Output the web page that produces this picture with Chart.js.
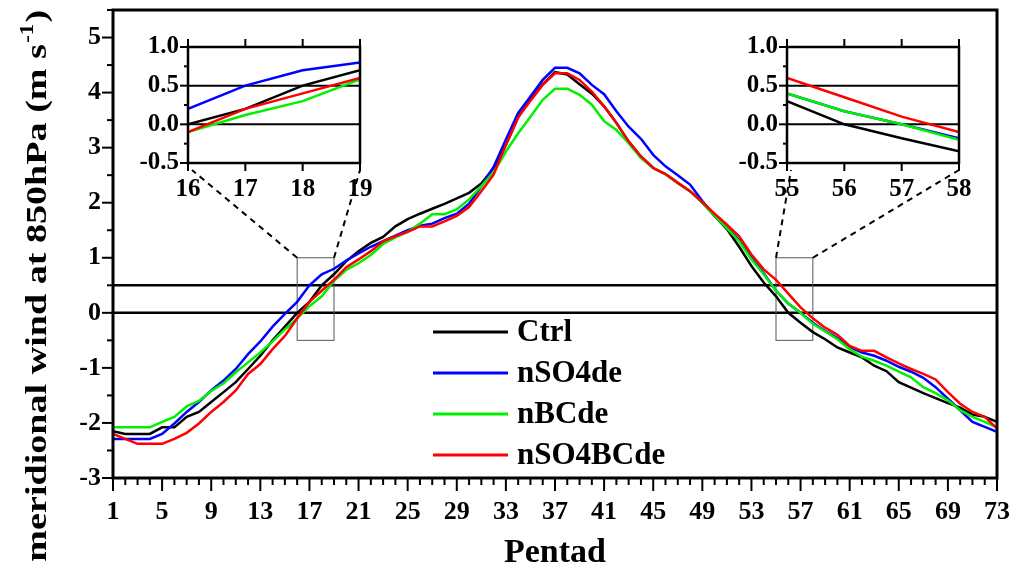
<!DOCTYPE html>
<html>
<head>
<meta charset="utf-8">
<script src="https://cdn.jsdelivr.net/npm/chart.js@4.4.1/dist/chart.umd.min.js"></script>
<style>
  body { margin: 0; background: #fff; }
  #wrap { position: relative; width: 1015px; height: 574px; }
  canvas { position: absolute; }
</style>
</head>
<body>
<div id="wrap">
  <canvas id="main" width="1015" height="574" style="left:0;top:0"></canvas>
  <canvas id="insetA" width="260" height="180"></canvas>
  <canvas id="insetB" width="260" height="180"></canvas>
</div>
<script>
// pentads 1..73
const pentads = Array.from({ length: 73 }, (_, i) => i + 1);

const ctrl = [
  -2.15, -2.2, -2.2, -2.2, -2.08, -2.08, -1.89, -1.8, -1.62, -1.44,
  -1.26, -1.02, -0.78, -0.5, -0.25, 0.0, 0.2, 0.5, 0.7, 0.94,
  1.12, 1.27, 1.38, 1.57, 1.7, 1.8, 1.89, 1.98, 2.08, 2.18,
  2.35, 2.63, 3.05, 3.55, 3.88, 4.15, 4.37, 4.33, 4.15, 3.98,
  3.75, 3.45, 3.11, 2.84, 2.63, 2.52, 2.36, 2.21, 2.0, 1.76,
  1.52, 1.2, 0.85, 0.55, 0.3, 0.0, -0.18, -0.35, -0.48, -0.63,
  -0.72, -0.81, -0.96, -1.06, -1.26, -1.36, -1.46, -1.55, -1.64, -1.72,
  -1.85, -1.89, -1.98,
];
const nSO4de = [
  -2.29, -2.29, -2.29, -2.29, -2.2, -2.01, -1.8, -1.62, -1.41, -1.23,
  -1.02, -0.75, -0.52, -0.25, -0.02, 0.2, 0.5, 0.7, 0.8, 0.95,
  1.08, 1.2, 1.3, 1.4, 1.5, 1.58, 1.62, 1.72, 1.8, 1.98,
  2.3, 2.65, 3.15, 3.63, 3.93, 4.23, 4.45, 4.45, 4.35, 4.14,
  3.97, 3.66, 3.38, 3.16, 2.87, 2.66, 2.5, 2.33, 2.03, 1.76,
  1.55, 1.32, 1.0, 0.72, 0.4, 0.17, 0.0, -0.18, -0.33, -0.46,
  -0.62, -0.72, -0.78, -0.87, -0.98, -1.07, -1.18, -1.35, -1.56, -1.77,
  -1.98, -2.07, -2.16,
];
const nBCde = [
  -2.08, -2.08, -2.08, -2.08, -1.98, -1.89, -1.7, -1.6, -1.42, -1.28,
  -1.08, -0.9, -0.72, -0.52, -0.3, -0.1, 0.12, 0.3, 0.58, 0.78,
  0.9, 1.05, 1.25, 1.37, 1.47, 1.62, 1.79, 1.79, 1.88, 2.06,
  2.3, 2.55, 2.93, 3.26, 3.56, 3.87, 4.07, 4.07, 3.96, 3.78,
  3.48, 3.32, 3.08, 2.81, 2.63, 2.52, 2.36, 2.21, 2.0, 1.76,
  1.54, 1.3, 0.97, 0.7, 0.4, 0.17, 0.0, -0.2, -0.34, -0.48,
  -0.66, -0.8, -0.87, -0.96, -1.07, -1.17, -1.35, -1.46, -1.59, -1.77,
  -1.89, -1.98, -2.08,
];
const nSO4BCde = [
  -2.2, -2.29, -2.38, -2.38, -2.38, -2.29, -2.18, -2.01, -1.8, -1.62,
  -1.41, -1.11, -0.93, -0.66, -0.42, -0.1, 0.2, 0.4, 0.6, 0.83,
  0.97, 1.12, 1.3, 1.39, 1.47, 1.57, 1.57, 1.66, 1.76, 1.92,
  2.21, 2.51, 3.05, 3.55, 3.85, 4.14, 4.35, 4.35, 4.23, 4.02,
  3.75, 3.45, 3.11, 2.84, 2.63, 2.52, 2.36, 2.21, 2.01, 1.8,
  1.6, 1.39, 1.06, 0.79, 0.6, 0.35, 0.1, -0.1, -0.27, -0.4,
  -0.6, -0.69, -0.69, -0.81, -0.92, -1.02, -1.11, -1.21, -1.44, -1.65,
  -1.8, -1.89, -2.1,
];

const seriesNames = ["Ctrl", "nSO4de", "nBCde", "nSO4BCde"];
const seriesColors = ["#000000", "#0000ff", "#00f000", "#ff0000"];
const refLevels = [0, 0.5];
// zoomed pentad windows and their value range
const zoomWindows = [[16, 19], [55, 58]];
const insetRange = [-0.5, 1.0];

const serif = "'Liberation Serif', 'Times New Roman', serif";

// inset canvas placement and its inner plot box
const insetAt = [[120, 30], [719, 30]];
const inBox = { left: 68, top: 17, right: 20, bottom: 47 };

function seg(ctx, x1, y1, x2, y2) {
  ctx.beginPath();
  ctx.moveTo(x1, y1);
  ctx.lineTo(x2, y2);
  ctx.stroke();
}

// drop the label overhang padding so the plot box stays where the layout puts it
function noPad(s) {
  s.paddingTop = 0;
  s.paddingBottom = 0;
  s.paddingLeft = 0;
  s.paddingRight = 0;
}

function makeDatasets(from, to) {
  const all = [ctrl, nSO4de, nBCde, nSO4BCde];
  return all.map((vals, i) => ({
    label: seriesNames[i],
    data: pentads
      .map((p, k) => ({ x: p, y: vals[k] }))
      .filter((d) => d.x >= from && d.x <= to),
    borderColor: seriesColors[i],
    backgroundColor: seriesColors[i],
    borderWidth: 2.5,
    pointRadius: 0,
    tension: 0,
    order: 4 - i,
  }));
}

// main chart decorations: frame, ticks, zoom boxes, legend, y title
const mainDecor = {
  id: "mainDecor",
  beforeDatasetsDraw(chart) {
    const { ctx, chartArea: a, scales: { x, y } } = chart;
    ctx.save();
    ctx.strokeStyle = "#000";
    ctx.lineWidth = 2.5;
    refLevels.forEach((v) => {
      const py = y.getPixelForValue(v);
      seg(ctx, a.left, py, a.right, py);
    });
    ctx.strokeStyle = "#555";
    ctx.lineWidth = 1;
    zoomWindows.forEach((w) => {
      const x1 = x.getPixelForValue(w[0]);
      const x2 = x.getPixelForValue(w[1]);
      const y1 = y.getPixelForValue(insetRange[1]);
      const y2 = y.getPixelForValue(insetRange[0]);
      ctx.strokeRect(x1, y1, x2 - x1, y2 - y1);
    });
    ctx.restore();
  },
  afterDraw(chart) {
    const { ctx, chartArea: a, scales: { x, y } } = chart;
    ctx.save();
    ctx.strokeStyle = "#000";
    ctx.lineWidth = 3;
    ctx.strokeRect(a.left, a.top, a.right - a.left, a.bottom - a.top);

    ctx.lineWidth = 2;
    pentads.forEach((p) => {
      const px = x.getPixelForValue(p);
      seg(ctx, px, a.bottom, px, a.bottom + ((p - 1) % 4 === 0 ? 13 : 7));
    });
    for (let v = -3; v <= 5.5; v += 0.5) {
      const py = y.getPixelForValue(v);
      seg(ctx, a.left, py, a.left - (v % 1 === 0 ? 11 : 6), py);
    }

    // dashed connectors to the insets
    ctx.setLineDash([6, 5]);
    ctx.lineWidth = 2;
    zoomWindows.forEach((w, i) => {
      const topY = y.getPixelForValue(insetRange[1]);
      const bx = insetAt[i][0];
      const by = insetAt[i][1] + 180 - inBox.bottom + 7;
      seg(ctx, x.getPixelForValue(w[0]), topY, bx + inBox.left + 4, by);
      seg(ctx, x.getPixelForValue(w[1]), topY, bx + 260 - inBox.right, by);
    });
    ctx.setLineDash([]);

    // legend
    ctx.font = "bold 31px " + serif;
    ctx.textBaseline = "middle";
    ctx.fillStyle = "#000";
    chart.data.datasets.forEach((ds, i) => {
      const ly = 332 + i * 41;
      ctx.strokeStyle = ds.borderColor;
      ctx.lineWidth = 3;
      seg(ctx, 433, ly, 508, ly);
      ctx.fillText(ds.label, 517, ly + 1);
    });

    // y axis title with superscript
    ctx.translate(38, 287);
    ctx.rotate(-Math.PI / 2);
    ctx.scale(1.27, 1);
    const t1 = "meridional wind at 850hPa (m s";
    const t2 = "-1";
    const t3 = ")";
    ctx.font = "bold 30px " + serif;
    const w1 = ctx.measureText(t1).width;
    const w3 = ctx.measureText(t3).width;
    ctx.font = "bold 18px " + serif;
    const w2 = ctx.measureText(t2).width;
    let sx = -(w1 + w2 + w3) / 2;
    ctx.font = "bold 30px " + serif;
    ctx.fillText(t1, sx, 0);
    ctx.font = "bold 18px " + serif;
    ctx.fillText(t2, sx + w1 + 1, -10);
    ctx.font = "bold 30px " + serif;
    ctx.fillText(t3, sx + w1 + w2 + 2, 0);
    ctx.restore();
  },
};

new Chart(document.getElementById("main"), {
  type: "line",
  data: { datasets: makeDatasets(1, 73) },
  options: {
    responsive: false,
    animation: false,
    events: [],
    devicePixelRatio: 1,
    layout: { padding: { top: 10, right: 18, left: 0, bottom: 0 } },
    plugins: { legend: { display: false }, tooltip: { enabled: false } },
    scales: {
      x: {
        type: "linear",
        min: 1,
        max: 73,
        border: { display: false },
        grid: { display: false, drawTicks: false },
        ticks: {
          stepSize: 4,
          autoSkip: false,
          maxRotation: 0,
          padding: 19,
          color: "#000",
          font: { family: serif, size: 26, weight: "bold" },
        },
        title: {
          display: true,
          text: "Pentad",
          color: "#000",
          padding: { top: 2, bottom: 0 },
          font: { family: serif, size: 34, weight: "bold" },
        },
        afterFit: (s) => { s.height = 96; noPad(s); },
      },
      y: {
        min: -3,
        max: 5.5,
        border: { display: false },
        grid: { display: false, drawTicks: false },
        ticks: {
          stepSize: 1,
          includeBounds: false,
          padding: 12,
          color: "#000",
          font: { family: serif, size: 26, weight: "bold" },
          callback: (v) => (Number.isInteger(v) ? v : ""),
        },
        afterFit: (s) => { s.width = 113; noPad(s); },
      },
    },
  },
  plugins: [mainDecor],
});

// insets
const insetDecor = {
  id: "insetDecor",
  beforeDatasetsDraw(chart) {
    const { ctx, chartArea: a, scales: { y } } = chart;
    ctx.save();
    ctx.strokeStyle = "#000";
    ctx.lineWidth = 2;
    refLevels.forEach((v) => {
      const py = y.getPixelForValue(v);
      seg(ctx, a.left, py, a.right, py);
    });
    ctx.restore();
  },
  afterDraw(chart) {
    const { ctx, chartArea: a, scales: { x, y } } = chart;
    ctx.save();
    ctx.strokeStyle = "#000";
    ctx.lineWidth = 2.5;
    ctx.strokeRect(a.left, a.top, a.right - a.left, a.bottom - a.top);
    ctx.lineWidth = 2;
    for (let p = x.min; p <= x.max; p++) {
      const px = x.getPixelForValue(p);
      seg(ctx, px, a.bottom, px, a.bottom + 8);
      seg(ctx, px, a.top, px, a.top - 8);
    }
    for (let v = insetRange[0]; v <= insetRange[1] + 1e-6; v += 0.25) {
      const py = y.getPixelForValue(v);
      const major = Math.abs(v * 2 - Math.round(v * 2)) < 1e-6;
      seg(ctx, a.left, py, a.left - (major ? 8 : 4), py);
    }
    ctx.restore();
  },
};

["insetA", "insetB"].forEach((id, i) => {
  const el = document.getElementById(id);
  el.style.left = insetAt[i][0] + "px";
  el.style.top = insetAt[i][1] + "px";
  const w = zoomWindows[i];
  new Chart(el, {
    type: "line",
    data: { datasets: makeDatasets(w[0], w[1]) },
    options: {
      responsive: false,
      animation: false,
      events: [],
      devicePixelRatio: 1,
      layout: { padding: { top: inBox.top, right: inBox.right, left: 0, bottom: 0 } },
      plugins: { legend: { display: false }, tooltip: { enabled: false } },
      scales: {
        x: {
          type: "linear",
          min: w[0],
          max: w[1],
          border: { display: false },
          grid: { display: false, drawTicks: false },
          ticks: {
            stepSize: 1,
            maxRotation: 0,
            padding: 12,
            color: "#000",
            font: { family: serif, size: 25, weight: "bold" },
          },
          afterFit: (s) => { s.height = inBox.bottom; noPad(s); },
        },
        y: {
          min: insetRange[0],
          max: insetRange[1],
          border: { display: false },
          grid: { display: false, drawTicks: false },
          ticks: {
            stepSize: 0.5,
            padding: 9,
            color: "#000",
            font: { family: serif, size: 25, weight: "bold" },
            callback: (v) => v.toFixed(1),
          },
          afterFit: (s) => { s.width = inBox.left; noPad(s); },
        },
      },
    },
    plugins: [insetDecor],
  });
});
</script>
</body>
</html>
